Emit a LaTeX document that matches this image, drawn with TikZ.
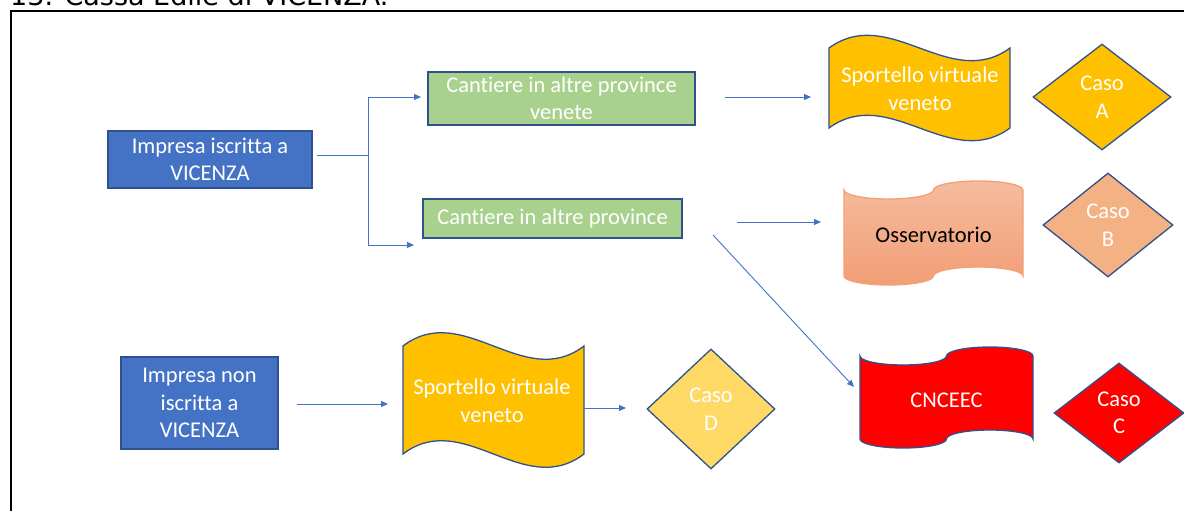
\documentclass[tikz,border=0pt]{standalone}
\usepackage{fontspec}
\setmainfont[Ligatures={NoCommon}]{Carlito}
\newfontfamily\titlefont{DejaVu Sans}
\usetikzlibrary{shapes.geometric,arrows.meta}
\definecolor{bluefill}{HTML}{4472C4}
\definecolor{blueline}{HTML}{2F528F}
\definecolor{greenfill}{HTML}{A9D18E}
\definecolor{gold}{HTML}{FFC000}
\definecolor{salmon}{HTML}{F4B183}
\definecolor{salmontop}{HTML}{F5BC9E}
\definecolor{salmonbot}{HTML}{F29E76}
\definecolor{salmonline}{HTML}{F3A173}
\definecolor{lightgold}{HTML}{FFD966}
\definecolor{conncol}{HTML}{4472C4}
\definecolor{redfill}{HTML}{FF0000}
\tikzset{
  txt/.style={font=\fontsize{22.5}{27.5}\selectfont, text=white, align=center, inner sep=0pt},
  rbox/.style={txt, draw=blueline, line width=1.3pt, rectangle},
  dbox/.style={txt, draw=blueline, line width=1.3pt, diamond},
  wave/.style={draw=blueline, line width=1.3pt},
  link/.style={draw=conncol, line width=0.9pt},
  arr/.style={link, -{Triangle[length=7pt,width=6pt]}},
}
% punched tape shape: #1 options, #2 L, #3 R, #4 T, #5 B, #6 amplitude
\newcommand\ptape[6]{%
  \pgfmathsetmacro\tpXa{#2}%
  \pgfmathsetmacro\tpRx{(#3-#2)/4}%
  \pgfmathsetmacro\tpXb{#2+\tpRx}%
  \pgfmathsetmacro\tpXc{#2+2*\tpRx}%
  \pgfmathsetmacro\tpXd{#2+3*\tpRx}%
  \pgfmathsetmacro\tpXe{#3}%
  \pgfmathsetmacro\tpKx{0.5523*\tpRx}%
  \pgfmathsetmacro\tpKy{0.5523*#6}%
  \pgfmathsetmacro\tpYc{#4+#6}%
  \pgfmathsetmacro\tpYu{#4+2*#6}%
  \pgfmathsetmacro\tpYt{#4}%
  \pgfmathsetmacro\tpYb{#5-#6}%
  \pgfmathsetmacro\tpYbu{#5-2*#6}%
  \pgfmathsetmacro\tpYbd{#5}%
  \path[#1] (\tpXa,\tpYc)
    .. controls (\tpXa,\tpYc+\tpKy) and (\tpXb-\tpKx,\tpYu) .. (\tpXb,\tpYu)
    .. controls (\tpXb+\tpKx,\tpYu) and (\tpXc,\tpYc+\tpKy) .. (\tpXc,\tpYc)
    .. controls (\tpXc,\tpYc-\tpKy) and (\tpXd-\tpKx,\tpYt) .. (\tpXd,\tpYt)
    .. controls (\tpXd+\tpKx,\tpYt) and (\tpXe,\tpYc-\tpKy) .. (\tpXe,\tpYc)
    -- (\tpXe,\tpYb)
    .. controls (\tpXe,\tpYb-\tpKy) and (\tpXd+\tpKx,\tpYbu) .. (\tpXd,\tpYbu)
    .. controls (\tpXd-\tpKx,\tpYbu) and (\tpXc,\tpYb-\tpKy) .. (\tpXc,\tpYb)
    .. controls (\tpXc,\tpYb+\tpKy) and (\tpXb+\tpKx,\tpYbd) .. (\tpXb,\tpYbd)
    .. controls (\tpXb-\tpKx,\tpYbd) and (\tpXa,\tpYb+\tpKy) .. (\tpXa,\tpYb)
    -- cycle;%
}
\begin{document}
\begin{tikzpicture}[x=1pt,y=-1pt]
\useasboundingbox (0,0) rectangle (1184,511);
\clip (0,0) rectangle (1184,511);
\fill[white] (0,0) rectangle (1184,511);

% title (cut off at top, as in the reference) and frame
\node[anchor=base west, inner sep=0pt, font=\titlefont\fontsize{27}{31}\selectfont] (title) at (10,6) {13. Cassa Edile di VICENZA.};
\draw[line width=2pt] (11,520) -- (11,11) -- (1190,11);

% boxes
\node[rbox, fill=bluefill, minimum width=204pt, minimum height=57pt] (imp) at (210,159.5) {Impresa iscritta a\\VICENZA};
\node[rbox, fill=greenfill, minimum width=267pt, minimum height=53pt] (cv) at (561.5,98.5) {Cantiere in altre province\\venete};
\node[rbox, fill=greenfill, minimum width=259pt, minimum height=39pt] (ca) at (552.5,218.5) {Cantiere in altre province};
\node[rbox, fill=bluefill, minimum width=157pt, minimum height=92pt] (impn) at (199.5,403) {Impresa non\\iscritta a\\VICENZA};

% wave shapes
\draw[wave, fill=gold] (829,48) .. controls (889.3,4) and (949.7,92) .. (1010,48) -- (1010,128) .. controls (949.7,172) and (889.3,84) .. (829,128) -- cycle;
\node[txt] (sv1) at (920,89) {Sportello virtuale\\veneto};

\draw[wave, fill=gold] (403,346) .. controls (463.3,300) and (523.7,392) .. (584,346) -- (584,454) .. controls (523.7,500) and (463.3,408) .. (403,454) -- cycle;
\node[txt] (sv2) at (492,401) {Sportello virtuale\\veneto};

% punched tapes
\ptape{draw=salmonline, line width=1.3pt, top color=salmontop, bottom color=salmonbot}{844}{1023}{181}{285}{9}
\node[txt, text=black] (oss) at (933.5,235) {Osservatorio};

\ptape{wave, fill=redfill}{860}{1033}{347}{448}{9}
\node[txt] (cn) at (946.5,400) {CNCEEC};

% diamonds
\node[dbox, fill=gold, minimum width=138pt, minimum height=106pt] (da) at (1102,97) {Caso\\A};
\node[dbox, fill=salmon, minimum width=130pt, minimum height=104pt] (db) at (1108,225) {Caso\\B};
\node[dbox, fill=redfill, minimum width=130pt, minimum height=100pt] (dc) at (1119,413) {Caso\\C};
\node[dbox, fill=lightgold, minimum width=128pt, minimum height=120pt] (dd) at (711,409) {Caso\\D};

% connectors
\coordinate (f0) at (317,155.5);
\coordinate (fork) at (368,155.5);
\coordinate (fa) at (368,97);
\coordinate (fb) at (368,245);
\coordinate (ea) at (421,97);
\coordinate (eb) at (414,245);
\draw[link] (f0) -- (fork);
\draw[arr] (fork) -- (fa) -- (ea);
\draw[arr] (fork) -- (fb) -- (eb);

\coordinate (s1) at (725,97);
\coordinate (e1) at (811,97);
\draw[arr] (s1) -- (e1);

\coordinate (s2) at (737,222);
\coordinate (e2) at (821,222);
\draw[arr] (s2) -- (e2);

\coordinate (s3) at (713,235);
\coordinate (e3) at (854,387);
\draw[arr] (s3) -- (e3);

\coordinate (s4) at (297,404);
\coordinate (e4) at (388,404);
\draw[arr] (s4) -- (e4);

\coordinate (s5) at (584,408);
\coordinate (e5) at (626,408);
\draw[arr] (s5) -- (e5);
\end{tikzpicture}
\end{document}
